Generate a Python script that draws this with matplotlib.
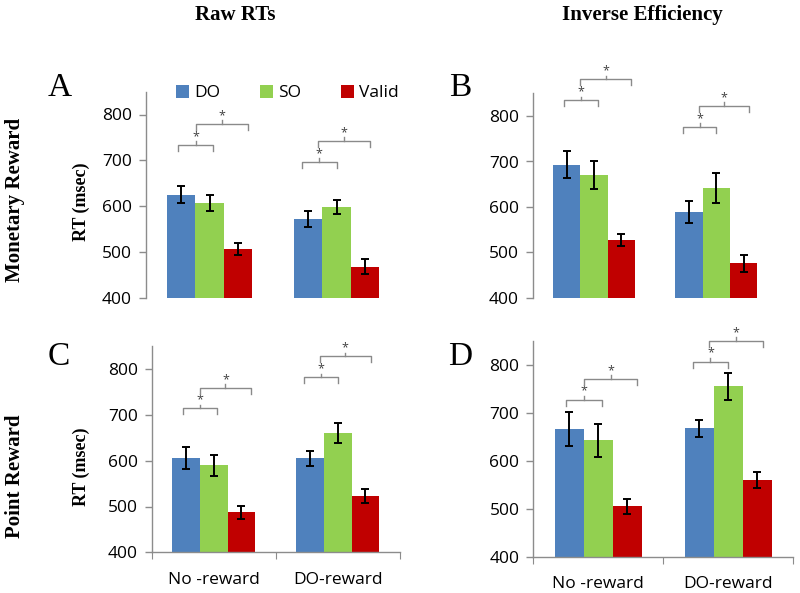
import matplotlib
matplotlib.use("Agg")
import matplotlib.pyplot as plt
from matplotlib.patches import Patch
import numpy as np

# ---------------- data ----------------
categories = ["No -reward", "DO-reward"]
series = ["DO", "SO", "Valid"]

A_DO = [625, 572];  A_DO_err = [18, 17]
A_SO = [607, 598];  A_SO_err = [17, 16]
A_VA = [507, 468];  A_VA_err = [13, 17]

B_DO = [693, 589];  B_DO_err = [30, 24]
B_SO = [670, 641];  B_SO_err = [30, 33]
B_VA = [527, 476];  B_VA_err = [14, 19]

C_DO = [606, 605];  C_DO_err = [25, 16]
C_SO = [590, 661];  C_SO_err = [23, 22]
C_VA = [487, 523];  C_VA_err = [15, 15]

D_DO = [666, 668];  D_DO_err = [35, 18]
D_SO = [643, 756];  D_SO_err = [34, 28]
D_VA = [505, 560];  D_VA_err = [16, 17]

# significance bracket heights (data units): [group1 DO-SO, group1 SO-Valid, group2 DO-SO, group2 SO-Valid]
A_brackets = [734, 780, 697, 742]
B_brackets = [835, 881, 776, 822]
C_brackets = [714, 759, 782, 828]
D_brackets = [728, 771, 807, 850]

yticks = [400, 500, 600, 700, 800]

# ---------------- style ----------------
colors = ["#4F81BD", "#92D050", "#C00000"]
spine_col = "#8C8C8C"
sans = ["Open Sans", "DejaVu Sans"]
serif = ["Liberation Serif", "DejaVu Serif"]

W, H = 800, 593
fig = plt.figure(figsize=(W / 100, H / 100), dpi=100)


def rect(left_px, right_px, y400_px, y850_px):
    return [left_px / W, 1 - y400_px / H, (right_px - left_px) / W, (y400_px - y850_px) / H]


def panel(pos, DO, DOe, SO, SOe, VA, VAe, brackets, show_x):
    ax = fig.add_axes(pos)
    x = np.arange(len(categories))
    w = 0.223
    for k, (vals, errs) in enumerate([(DO, DOe), (SO, SOe), (VA, VAe)]):
        ax.bar(x + (k - 1) * w, vals, width=w, color=colors[k], zorder=2)
        ax.errorbar(x + (k - 1) * w, vals, yerr=errs, fmt="none", ecolor="black",
                    elinewidth=1.4, capsize=3.2, capthick=1.4, zorder=3)
    ax.set_xlim(-0.5, 1.5)
    ax.set_ylim(400, 850)
    ax.set_yticks(yticks)
    ax.tick_params(axis="y", direction="out", length=5, width=1, color=spine_col,
                   labelsize=12.5, pad=5)
    for lab in ax.get_yticklabels():
        lab.set_fontfamily(sans)
    for s in ["top", "right"]:
        ax.spines[s].set_visible(False)
    ax.spines["left"].set_color(spine_col)
    ax.spines["left"].set_linewidth(1)
    if show_x:
        ax.spines["bottom"].set_color(spine_col)
        ax.spines["bottom"].set_linewidth(1)
        ax.set_xticks([-0.5, 0.5, 1.5])
        ax.set_xticklabels([])
        ax.set_xticks(x, minor=True)
        ax.set_xticklabels(categories, minor=True, fontsize=12.5, fontfamily=sans)
        ax.tick_params(axis="x", which="major", direction="out", length=5, color=spine_col)
        ax.tick_params(axis="x", which="minor", length=0, pad=14)
    else:
        ax.spines["bottom"].set_visible(False)
        ax.set_xticks([])

    # significance brackets
    offs = [(-0.245, 0.03), (-0.11, 0.30), (-0.275, 0.0), (-0.145, 0.267)]
    for i, yb in enumerate(brackets):
        g = i // 2
        x0, x1 = g + offs[i][0], g + offs[i][1]
        drop = 13
        xm = (x0 + x1) / 2
        ax.plot([x0, x0, x1, x1], [yb - drop, yb, yb, yb - drop], color="#8a8a8a",
                lw=1, clip_on=False, zorder=4)
        ax.plot([xm, xm], [yb, yb + 8], color="#8a8a8a", lw=1, clip_on=False, zorder=4)
        ax.text(xm, yb + 4, "*", ha="center", va="bottom", fontsize=9, color="#404040",
                fontfamily=sans, clip_on=False)
    return ax


axA = panel(rect(146, 400, 297.7, 91.6), A_DO, A_DO_err, A_SO, A_SO_err, A_VA, A_VA_err, A_brackets, False)
axB = panel(rect(532.7, 777.7, 297.7, 93.4), B_DO, B_DO_err, B_SO, B_SO_err, B_VA, B_VA_err, B_brackets, False)
axC = panel(rect(151.7, 399.7, 552.3, 346.2), C_DO, C_DO_err, C_SO, C_SO_err, C_VA, C_VA_err, C_brackets, True)
axD = panel(rect(533.3, 793.3, 556.7, 341.1), D_DO, D_DO_err, D_SO, D_SO_err, D_VA, D_VA_err, D_brackets, True)

# legend
handles = [Patch(facecolor=c, edgecolor="none", label=s) for c, s in zip(colors, series)]
fig.legend(handles=handles, loc="center left", bbox_to_anchor=(160 / W, 1 - 93 / H),
           ncol=3, frameon=False, handlelength=0.75, handleheight=0.75, handletextpad=0.3,
           columnspacing=2.3, prop={"family": sans, "size": 12.5})

# titles and labels
fig.text(235 / W, 1 - 15 / H, "Raw RTs", ha="center", va="center", fontsize=15,
         fontweight="bold", fontfamily=serif)
fig.text(642 / W, 1 - 15 / H, "Inverse Efficiency", ha="center", va="center", fontsize=15,
         fontweight="bold", fontfamily=serif)
fig.text(15 / W, 1 - 200 / H, "Monetary Reward", ha="center", va="center", rotation=90,
         fontsize=15, fontweight="bold", fontfamily=serif)
fig.text(15 / W, 1 - 476 / H, "Point Reward", ha="center", va="center", rotation=90,
         fontsize=15, fontweight="bold", fontfamily=serif)
fig.text(81 / W, 1 - 202 / H, "RT (msec)", ha="center", va="center", rotation=90,
         fontsize=13, fontweight="bold", fontfamily=serif)
fig.text(81 / W, 1 - 467 / H, "RT (msec)", ha="center", va="center", rotation=90,
         fontsize=13, fontweight="bold", fontfamily=serif)

for letter, (px, py) in zip("ABCD", [(60, 88), (460, 88), (59, 357), (460, 357)]):
    fig.text(px / W, 1 - py / H, letter, ha="center", va="center", fontsize=24,
             fontfamily=serif)

fig.savefig("out.png", dpi=100)
